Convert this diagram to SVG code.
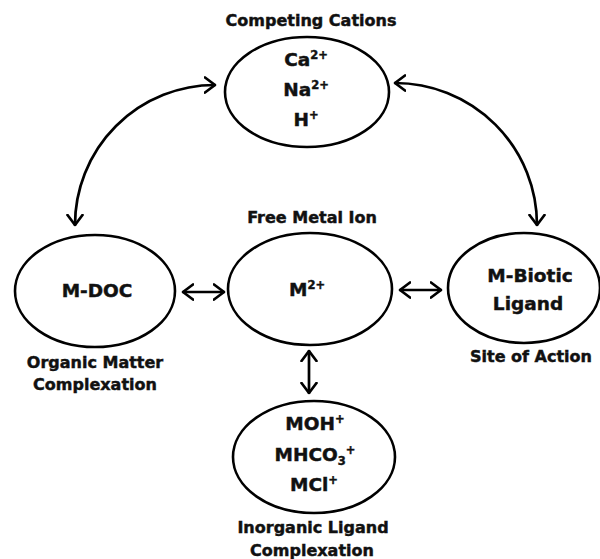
<svg xmlns="http://www.w3.org/2000/svg" width="600" height="559" viewBox="0 0 600 559">
<style>
.node ellipse{fill:#fff;stroke:#000;stroke-width:2.6}
text{font-family:"DejaVu Sans","Liberation Sans",sans-serif;font-weight:bold;fill:#111;stroke:#111;stroke-width:0.45;text-anchor:middle}
.lbl{font-size:16px}
.in{font-size:18.5px}
.sup{font-size:11.5px}
.conn path{fill:none;stroke:#000;stroke-width:2.7;stroke-linecap:round}
</style>
<defs>
<marker id="ah" markerUnits="userSpaceOnUse" viewBox="0 0 12 18" refX="11" refY="9" markerWidth="12" markerHeight="18" orient="auto-start-reverse">
<path d="M1,1.5 L11,9 L1,16.5" fill="none" stroke="#000" stroke-width="2.7" stroke-linecap="round" stroke-linejoin="round"/>
</marker>
</defs>
<rect width="600" height="559" fill="#fff"/>
<g class="conn">
<path d="M215 85 A140 140 0 0 0 75 225" marker-start="url(#ah)" marker-end="url(#ah)"/>
<path d="M395 83 A142 142 0 0 1 537 225" marker-start="url(#ah)" marker-end="url(#ah)"/>
<path d="M183 292 L224 292" marker-start="url(#ah)" marker-end="url(#ah)"/>
<path d="M400 290 L441 290" marker-start="url(#ah)" marker-end="url(#ah)"/>
<path d="M309 351 L309 393" marker-start="url(#ah)" marker-end="url(#ah)"/>
</g>
<g id="cations" class="node">
<text class="lbl" x="311" y="26">Competing Cations</text>
<ellipse cx="307" cy="92" rx="82" ry="55"/>
<text class="in" x="306" y="66">Ca<tspan class="sup" dy="-7">2+</tspan></text>
<text class="in" x="306" y="96">Na<tspan class="sup" dy="-7">2+</tspan></text>
<text class="in" x="306" y="126">H<tspan class="sup" dy="-7">+</tspan></text>
</g>
<g id="mdoc" class="node">
<ellipse cx="95" cy="291" rx="80" ry="56"/>
<text class="in" x="97" y="297">M-DOC</text>
<text class="lbl" x="95" y="368">Organic Matter</text>
<text class="lbl" x="95" y="390">Complexation</text>
</g>
<g id="free" class="node">
<text class="lbl" x="312" y="223">Free Metal Ion</text>
<ellipse cx="310" cy="289" rx="82" ry="56"/>
<text class="in" x="307" y="296">M<tspan class="sup" dy="-7">2+</tspan></text>
</g>
<g id="biotic" class="node">
<ellipse cx="524" cy="288" rx="76" ry="55"/>
<text class="in" x="530" y="282">M-Biotic</text>
<text class="in" x="528" y="310">Ligand</text>
<text class="lbl" x="531" y="362">Site of Action</text>
</g>
<g id="inorganic" class="node">
<ellipse cx="314" cy="457" rx="81" ry="56"/>
<text class="in" x="315" y="430">MOH<tspan class="sup" dy="-7">+</tspan></text>
<text class="in" x="315" y="461">MHCO<tspan class="sup" dy="4">3</tspan><tspan class="sup" dy="-11">+</tspan></text>
<text class="in" x="314" y="491">MCl<tspan class="sup" dy="-7">+</tspan></text>
<text class="lbl" x="313" y="533">Inorganic Ligand</text>
<text class="lbl" x="312" y="556">Complexation</text>
</g>
</svg>
